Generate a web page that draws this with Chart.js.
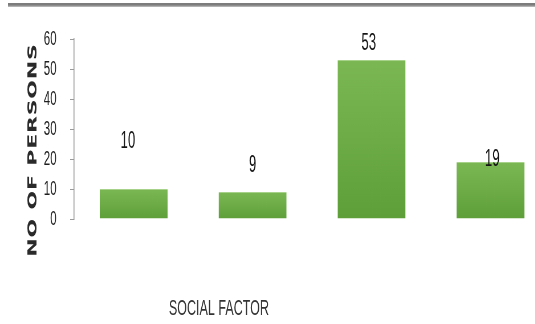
<!DOCTYPE html>
<html>
<head>
<meta charset="utf-8">
<script src="https://cdn.jsdelivr.net/npm/chart.js@4.4.1/dist/chart.umd.min.js"></script>
<style>
  html, body { margin: 0; padding: 0; background: #ffffff; overflow: hidden; width: 535px; height: 324px; }
  #rule { position: absolute; left: 8px; top: 3px; width: 527px; height: 4px;
          background: linear-gradient(#7c7c7c, #7c7c7c 50%, #c4c4c4); }
  #wrap { position: absolute; left: 0; top: 0; transform-origin: 0 0; transform: scaleX(0.57); }
</style>
</head>
<body>
<div id="rule"></div>
<div id="wrap"><canvas id="c" width="965" height="324"></canvas></div>
<script>
// Survey counts by social factor
const categories = ['Factor 1', 'Factor 2', 'Factor 3', 'Factor 4'];
const persons = [10, 9, 53, 19];
const yTicks = [0, 10, 20, 30, 40, 50, 60];
const xTitle = 'SOCIAL FACTOR';
const yTitle = 'NO OF PERSONS';

const SANS = '"Liberation Sans", Arial, sans-serif';

// value labels sit at hand-placed offsets above each bar
const valueLabels = {
  id: 'valueLabels',
  afterDatasetsDraw(chart, args, opts) {
    const ctx = chart.ctx;
    const meta = chart.getDatasetMeta(0);
    ctx.save();
    ctx.font = '23px ' + SANS;
    ctx.fillStyle = '#151515';
    ctx.textAlign = 'center';
    ctx.textBaseline = 'middle';
    meta.data.forEach((bar, i) => {
      const off = opts.offsets[i] || [0, 0];
      ctx.fillText(String(persons[i]), bar.x + off[0], bar.y + off[1]);
    });
    ctx.restore();
  }
};

// axis titles
const axisTitles = {
  id: 'axisTitles',
  afterDraw(chart) {
    const ctx = chart.ctx;
    ctx.save();
    ctx.fillStyle = '#333333';
    ctx.textAlign = 'center';
    ctx.textBaseline = 'middle';
    ctx.font = '22px ' + SANS;
    ctx.fillText(xTitle, 384, 309);

    ctx.translate(58, 150);
    ctx.rotate(-Math.PI / 2);
    ctx.font = 'bold 22px "DejaVu Sans", Verdana, sans-serif';
    ctx.letterSpacing = '0.8px';
    ctx.fillStyle = '#2a2a2a';
    ctx.fillText(yTitle, 0, 0);
    ctx.restore();
  }
};

function barFill(c) {
  const chart = c.chart;
  if (!chart.chartArea || c.raw === undefined) return '#6cb043';
  const y = chart.scales.y;
  const top = y.getPixelForValue(c.raw);
  const bottom = y.getPixelForValue(0);
  const g = chart.ctx.createLinearGradient(0, top, 0, bottom);
  g.addColorStop(0, '#7bb853');
  g.addColorStop(1, '#5e9f3a');
  return g;
}

new Chart(document.getElementById('c'), {
  type: 'bar',
  data: {
    labels: categories,
    datasets: [{
      data: persons,
      backgroundColor: barFill,
      borderColor: '#a6d28a',
      borderWidth: { top: 1, left: 0, right: 0, bottom: 0 },
      borderSkipped: false,
      categoryPercentage: 1,
      barPercentage: 0.571
    }]
  },
  options: {
    responsive: false,
    animation: false,
    devicePixelRatio: 1,
    layout: { padding: { top: 39, bottom: 105, left: 0, right: 0 } },
    plugins: {
      legend: { display: false },
      tooltip: { enabled: false },
      valueLabels: { offsets: [[-10, -47], [0, -26], [-5, -16], [3, -2]] }
    },
    scales: {
      x: { display: false },
      y: {
        min: 0,
        max: 60,
        afterBuildTicks(scale) { scale.ticks = yTicks.map(v => ({ value: v })); },
        afterFit(scale) { scale.width = 130; },
        border: { display: true, color: '#9a9a9a', width: 1.6 },
        grid: { drawOnChartArea: false, drawTicks: true, tickLength: 7, color: '#9a9a9a', lineWidth: 1 },
        ticks: {
          padding: 24,
          color: '#1e1e1e',
          font: { family: SANS, size: 20 }
        }
      }
    }
  },
  plugins: [valueLabels, axisTitles]
});
</script>
</body>
</html>
